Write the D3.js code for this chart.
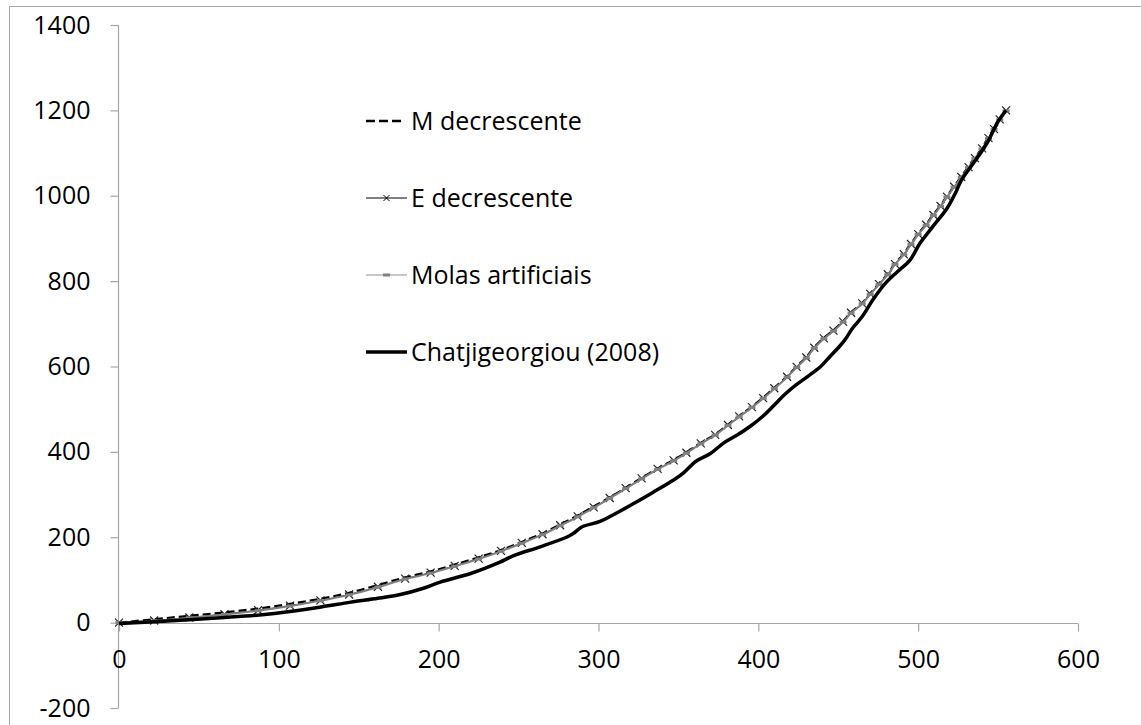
<!DOCTYPE html>
<html>
<head>
<meta charset="utf-8">
<script src="https://cdn.jsdelivr.net/npm/d3@7"></script>
<style>
  html, body { margin: 0; padding: 0; background: #fff; }
  svg { display: block; font-family: "Open Sans", Lato, sans-serif; }
</style>
</head>
<body>
<svg id="chart" width="1141" height="725"></svg>
<script>
// ---- data ----
const seriesNames = ["M decrescente", "E decrescente", "Molas artificiais", "Chatjigeorgiou (2008)"];
const xTicks = [0, 100, 200, 300, 400, 500, 600];
const yTicks = [-200, 0, 200, 400, 600, 800, 1000, 1200, 1400];

const xUpper = [0, 22, 44, 66, 87, 107, 126, 144, 162, 179,
  195, 210, 225, 239, 252, 265, 276, 287, 297, 307,
  317, 327, 337, 347, 355, 364, 373, 381, 388, 396,
  403, 410, 418, 424, 430, 435, 441, 447, 453, 458,
  465, 470, 475.5, 481, 485.5, 491, 495.5, 500, 505, 509.5,
  514, 518, 522.5, 527, 531.5, 535.5, 540, 544, 547.5, 551, 555];
const yE = [0, 5, 12, 20, 29, 40, 52, 66, 84, 103,
  117, 133, 150, 168, 187, 207, 228, 249, 270, 292,
  315, 338, 360, 380, 398, 420, 440, 463, 483, 505,
  526, 549, 576, 599, 621, 644, 666, 684, 705, 726,
  748, 770, 793, 816, 840, 863, 887, 910, 932, 955,
  976, 998, 1021, 1044, 1067, 1088, 1111, 1135, 1156, 1179, 1200];
const yM = [0, 8, 16, 24, 33, 44, 56, 70, 88, 106,
  120, 136, 153, 170, 189, 209, 230, 251, 272, 293,
  316, 339, 361, 381, 399, 421, 441, 464, 484, 506,
  527, 550, 577, 600, 622, 645, 667, 685, 706, 727,
  749, 771, 794, 817, 841, 864, 888, 911, 933, 956,
  977, 999, 1022, 1045, 1068, 1089, 1112, 1136, 1157, 1180, 1201];
const yMolas = [0, 4, 11, 19, 28, 39, 51, 65, 83, 102,
  116, 132, 149, 167, 186, 206, 227, 248, 269, 291,
  314, 337, 359, 379, 397, 419, 439, 462, 482, 504,
  525, 548, 575, 598, 620, 643, 665, 683, 704, 725,
  747, 769, 792, 815, 839, 862, 886, 909, 931, 954,
  975, 997, 1020, 1043, 1066, 1087, 1110, 1134, 1155, 1178, 1199];

const xChat = [0, 22, 44, 66, 88, 107, 127, 145, 162, 176,
  190, 201, 220, 238, 247, 263, 280, 284, 289.5, 301,
  309, 322, 334, 347, 353, 361, 370, 378, 387, 395,
  403, 410, 417, 424, 431, 439, 445, 451, 455, 459,
  465, 472, 480, 487, 495, 501, 509, 518, 523, 527,
  534.5, 543, 550, 555];
const yChat = [-2, 2, 7, 12, 18, 26, 37, 48, 57, 66,
  80, 95, 115, 141, 157, 177, 200, 208, 224, 237,
  252, 279, 305, 334, 350, 378, 396, 420, 440, 460,
  484, 510, 536, 558, 577, 600, 624, 648, 667, 690,
  717, 758, 797, 822, 850, 888, 927, 970, 1004, 1036,
  1076, 1123, 1174, 1200];

// ---- chart ----
const svg = d3.select("#chart");
const x = d3.scaleLinear().domain([0, 600]).range([119, 1078]);
const y = d3.scaleLinear().domain([-200, 1400]).range([708, 25]);
const axisColor = "#a6a6a6";
const fontSize = "25px";
const fmt = d => String(d); // plain hyphen-minus like the reference

// outer chart border (left and top visible)
svg.append("rect").attr("x", 9.5).attr("y", 6.5).attr("width", 1200).attr("height", 800)
  .attr("fill", "none").attr("stroke", axisColor).attr("stroke-width", 1);

// y axis
const yAxis = svg.append("g").attr("transform", `translate(${x(0) - 0.5},0)`)
  .call(d3.axisLeft(y).tickValues(yTicks).tickSize(8).tickPadding(20).tickFormat(fmt));
// x axis at y = 0
const xAxis = svg.append("g").attr("transform", `translate(0,${Math.round(y(0)) + 0.5})`)
  .call(d3.axisBottom(x).tickValues(xTicks).tickSize(8).tickPadding(19).tickFormat(fmt));
[yAxis, xAxis].forEach(g => {
  g.select(".domain").attr("stroke", axisColor).attr("stroke-width", 1.2);
  g.selectAll(".tick line").attr("stroke", axisColor).attr("stroke-width", 1.2);
  g.selectAll(".tick text").attr("fill", "#000").style("font-size", fontSize).style("font-family", "'Open Sans', Lato, sans-serif");
});
yAxis.select(".domain").attr("d", `M0,${y(1400)}V${y(-200)}`);
xAxis.select(".domain").attr("d", `M${x(0)},0H${x(600)}`);

const line = d3.line().x(d => x(d[0])).y(d => y(d[1])).curve(d3.curveCatmullRom.alpha(0.5));
const ptsM = xUpper.map((v, i) => [v, yM[i]]);
const ptsE = xUpper.map((v, i) => [v, yE[i]]);
const ptsMolas = xUpper.map((v, i) => [v, yMolas[i]]);
const ptsChat = xChat.map((v, i) => [v, yChat[i]]);

// M decrescente (dashed black)
svg.append("path").datum(ptsM).attr("d", line).attr("fill", "none")
  .attr("stroke", "#000").attr("stroke-width", 2.2).attr("stroke-dasharray", "8,4");
// E decrescente (thin black with x markers)
svg.append("path").datum(ptsE).attr("d", line).attr("fill", "none")
  .attr("stroke", "#000").attr("stroke-width", 1);
const xMark = (g, cx, cy, r, color, w) => {
  g.append("path").attr("d", `M${cx - r},${cy - r}L${cx + r},${cy + r}M${cx - r},${cy + r}L${cx + r},${cy - r}`)
    .attr("stroke", color).attr("stroke-width", w).attr("fill", "none");
};
const eMarks = svg.append("g");
ptsE.forEach(d => xMark(eMarks, x(d[0]), y(d[1]), 4, "#222", 1.2));
// Molas artificiais (gray, small dash markers)
svg.append("path").datum(ptsMolas).attr("d", line).attr("fill", "none")
  .attr("stroke", "#808080").attr("stroke-width", 2);
svg.append("g").selectAll("rect").data(ptsMolas).join("rect")
  .attr("x", d => x(d[0]) - 3.5).attr("y", d => y(d[1]) - 1.5)
  .attr("width", 7).attr("height", 3).attr("fill", "#808080");
// Chatjigeorgiou (2008) (thick black)
svg.append("path").datum(ptsChat).attr("d", line).attr("fill", "none")
  .attr("stroke", "#000").attr("stroke-width", 3.5).attr("stroke-linejoin", "round");

// ---- legend ----
const legendY = [121, 198, 275, 352];
const lx0 = 366, lx1 = 407, tx = 411;
const leg = svg.append("g");
leg.append("line").attr("x1", lx0).attr("x2", lx1 - 4).attr("y1", legendY[0]).attr("y2", legendY[0])
  .attr("stroke", "#000").attr("stroke-width", 2.5).attr("stroke-dasharray", "9,4");
leg.append("line").attr("x1", lx0).attr("x2", lx1).attr("y1", legendY[1]).attr("y2", legendY[1])
  .attr("stroke", "#000").attr("stroke-width", 1);
xMark(leg, (lx0 + lx1) / 2, legendY[1], 3, "#000", 1);
leg.append("line").attr("x1", lx0).attr("x2", lx1).attr("y1", legendY[2]).attr("y2", legendY[2])
  .attr("stroke", "#909090").attr("stroke-width", 1.2);
leg.append("rect").attr("x", (lx0 + lx1) / 2 - 3.5).attr("y", legendY[2] - 1.5).attr("width", 7).attr("height", 3).attr("fill", "#808080");
leg.append("line").attr("x1", lx0).attr("x2", lx1).attr("y1", legendY[3]).attr("y2", legendY[3])
  .attr("stroke", "#000").attr("stroke-width", 3.5);
seriesNames.forEach((n, i) => {
  leg.append("text").attr("x", tx).attr("y", legendY[i]).attr("dy", "0.36em")
    .style("font-size", fontSize).attr("fill", "#000").text(n);
});
</script>
</body>
</html>
